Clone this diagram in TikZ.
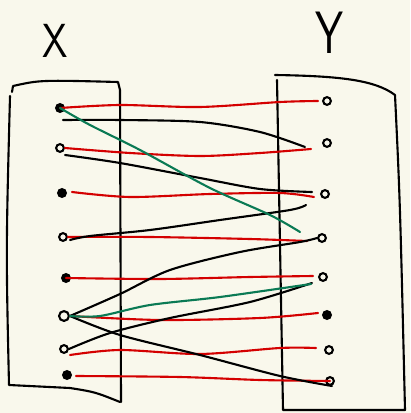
\documentclass[tikz,border=0pt]{standalone}
\usepackage{tikz}
\usetikzlibrary{positioning}
\definecolor{paper}{RGB}{249,248,236}
\definecolor{pinkred}{RGB}{212,0,0}
\definecolor{sketchgreen}{RGB}{10,122,84}
\begin{document}
\begin{tikzpicture}[
  x=0.025cm, y=-0.025cm,
  pt/.style={circle, draw, line width=1.5pt, inner sep=0pt, minimum size=5.5pt},
  setname/.style={font=\sffamily\fontsize{34}{40}\selectfont, inner sep=0pt},
  frame/.style={draw, line width=1.5pt, line cap=round, line join=round},
  redl/.style={draw=pinkred, line width=1.5pt, line cap=round},
  blkl/.style={draw=black, line width=1.5pt, line cap=round},
  grnl/.style={draw=sketchgreen, line width=1.5pt, line cap=round}
]
\fill[paper] (0,0) rectangle (410,413);
\useasboundingbox (0,0) rectangle (410,413);
% set labels
\node[setname, xscale=0.85] (X) at (55,41) {X};
\node[setname, scale=1.25, xscale=0.75] (Y) at (330,33) {Y};
% sets
\draw[frame] (12,92) -- (13,86) .. controls (40,80) .. (118,82) -- (120,90) -- (121,402);
\draw[frame] (10,96) .. controls (6,250) .. (9,385) -- (70,388) .. controls (95,392) .. (120,402);
\draw[frame] (275,75) .. controls (340,76) and (375,80) .. (395,95) .. controls (400,200) .. (405,410) -- (283,410) -- (277,80);
% elements of X
\node[pt, fill] (x1) at (60,108) {};
\node[pt] (x2) at (60,148) {};
\node[pt, fill] (x3) at (62,193) {};
\node[pt] (x4) at (63,237) {};
\node[pt, fill] (x5) at (66,278) {};
\node[pt, minimum size=7pt] (x6) at (64,316) {};
\node[pt] (x7) at (64,349) {};
\node[pt, fill] (x8) at (67,375) {};
% elements of Y
\node[pt] (y1) at (327,101) {};
\node[pt] (y2) at (327,143) {};
\node[pt] (y3) at (325,194) {};
\node[pt] (y4) at (322,238) {};
\node[pt] (y5) at (323,277) {};
\node[pt, fill] (y6) at (327,315) {};
\node[pt] (y7) at (329,350) {};
\node[pt] (y8) at (330,381) {};
% loose ends
\coordinate (e0) at (318,101);
\coordinate (e1) at (305,147);
\coordinate (e2) at (312,192);
\coordinate (e3) at (306,205);
\coordinate (e4) at (312,283);
\coordinate (e5) at (300,232);
\coordinate (e6) at (311,284);
% red
\draw[redl] plot[smooth] coordinates {(x1.center) (120,105) (200,107) (280,102) (e0)};
\draw[redl] plot[smooth] coordinates {(x2.east) (130,153) (200,156) (260,153) (311,149)};
\draw[redl] plot[smooth] coordinates {(72,192) (130,197) (210,194) (280,193) (314,197)};
\draw[redl] plot[smooth] coordinates {(x4.east) (150,237) (250,239) (307,241)};
\draw[redl] plot[smooth] coordinates {(x5.center) (160,279) (250,277) (313,276)};
\draw[redl] plot[smooth] coordinates {(x6.east) (160,320) (260,318) (318,313)};
\draw[redl] plot[smooth] coordinates {(70,355) (120,350) (200,354) (280,348) (316,348)};
\draw[redl] plot[smooth] coordinates {(76,376) (180,377) (260,380) (y8.center)};
% black
\draw[blkl] plot[smooth] coordinates {(63,120) (120,120) (200,122) (260,132) (e1)};
\draw[blkl] plot[smooth] coordinates {(65,155) (120,163) (200,178) (260,189) (e2)};
\draw[blkl] plot[smooth] coordinates {(70,240) (90,236) (150,230) (220,220) (290,210) (e3)};
\draw[blkl] plot[smooth] coordinates {(x6.east) (120,294) (170,270) (240,252) (300,242) (y4.west)};
\draw[blkl] plot[smooth] coordinates {(x6.east) (120,335) (200,355) (280,376) (332,386)};
\draw[blkl] plot[smooth] coordinates {(x7.east) (110,333) (170,318) (250,302) (e4)};
% green
\draw[grnl] plot[smooth] coordinates {(x1.center) (90,125) (140,150) (210,188) (270,215) (e5)};
\draw[grnl] plot[smooth] coordinates {(x6.east) (100,316) (150,305) (220,297) (e6)};
\end{tikzpicture}
\end{document}
